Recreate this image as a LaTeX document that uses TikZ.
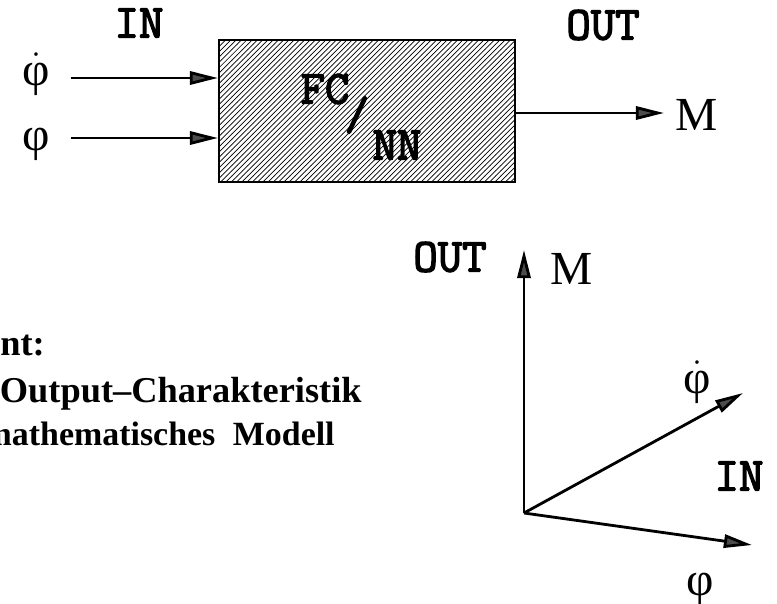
\documentclass[tikz,border=0pt]{standalone}
\usepackage{fontspec}
\setmainfont{Liberation Serif}
\newfontfamily\iofont{Latin Modern Mono}[FakeBold=3]
\usetikzlibrary{arrows.meta,patterns}

\tikzset{
  sig/.style={draw, line width=1.6pt, -{Triangle[length=16pt,width=7.5pt,fill=black!70]}},
  ioname/.style={font=\fontsize{27}{27}\selectfont\iofont},
  var/.style={font=\fontsize{27}{27}\selectfont, anchor=base, inner sep=0pt},
  note/.style={font=\fontsize{20.7}{20.7}\selectfont\bfseries, anchor=base east, inner sep=0pt},
}
\newcommand{\phidot}{\(\dot{\hbox{φ}}\)}

\begin{document}
\begin{tikzpicture}[x=0.02cm, y=-0.02cm]
  \useasboundingbox (0,0) rectangle (777,603);
  \clip (0,0) rectangle (777,603);
  % the block
  \node (fcnn) [draw, line width=1.2pt, pattern=north east lines,
    minimum width=5.92cm, minimum height=2.84cm] at (367,111) {};
  \node (fc) [ioname] at (325,89) {FC};
  \node (slash) [ioname] at (357,115) {/};
  \node (nn) [ioname] at (397,145) {NN};
  \node (in) [ioname] at (139,23) {IN};
  \node (out) [ioname] at (603,25) {OUT};
  \node (phid) [var] at (36,85) {\phidot};
  \node (phi) [var] at (36,150) {φ};
  \node (m) [var] at (697,130) {M};
  \coordinate (s1) at (71,78);
  \coordinate (s2) at (71,138);
  \coordinate (s3) at (664,113);
  \draw[sig] (s1) -- (s1 -| fcnn.west);
  \draw[sig] (s2) -- (s2 -| fcnn.west);
  \draw[sig] (s3 -| fcnn.east) -- (s3);
  % remarks
  \node (goal) [note, anchor=base west] at (0,355) {nt:};
  \node (char) [note] at (362,402) {Output–Charakteristik};
  \node (model) [note, font=\fontsize{19.3}{19.3}\selectfont\bfseries] at (335,445)
    {mathematisches\hspace{10pt}Modell};
  % axes
  \coordinate (o) at (524,513);
  \coordinate (ym) at (524,250);
  \coordinate (xd) at (743,393);
  \coordinate (xp) at (752,545);
  \draw[sig] (o) -- (ym);
  \draw[sig] (o) -- (xd);
  \draw[sig] (o) -- (xp);
  \node (out2) [ioname] at (450,257) {OUT};
  \node (m2) [var] at (572,284) {M};
  \node (phid2) [var] at (697,393) {\phidot};
  \node (in2) [ioname] at (739,476) {IN};
  \node (phi2) [var] at (700,595) {φ};
\end{tikzpicture}
\end{document}
